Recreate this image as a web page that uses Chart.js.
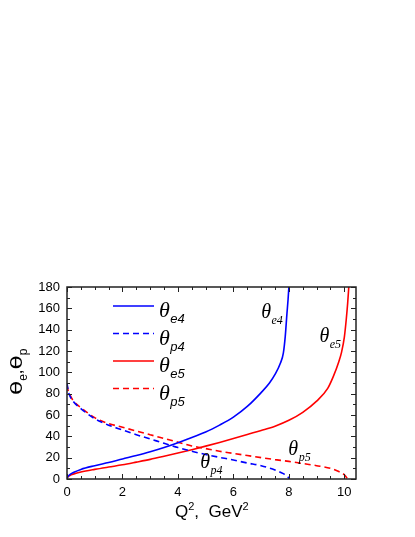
<!DOCTYPE html>
<html>
<head>
<meta charset="utf-8">
<script src="https://cdn.jsdelivr.net/npm/chart.js@4.4.1/dist/chart.umd.min.js"></script>
<style>
  html, body { margin: 0; padding: 0; background: #fff; }
</style>
</head>
<body>
<canvas id="myChart" width="415" height="537"></canvas>
<script>
// values: Q^2 in GeV^2, angles in degrees
const qE4 = [0, 0.02, 0.1, 0.25, 0.5, 1, 1.5, 2, 2.5, 3, 3.5, 4, 4.5, 5, 5.5, 6, 6.5, 7, 7.3, 7.5, 7.7, 7.8, 7.87, 7.93, 7.97, 8.0];
const thE4 = [0, 1.8, 4, 6.3, 9, 12.5, 15.5, 18.8, 22, 25.5, 29.5, 34, 39, 44, 50.5, 58, 68, 81, 90, 98, 109, 118, 134, 155, 168, 180];

const qP4 = [0, 0.05, 0.1, 0.25, 0.5, 1, 1.5, 2, 2.5, 3, 3.5, 4, 4.5, 5, 5.5, 6, 6.5, 7, 7.5, 7.8, 7.95, 8.0];
const thP4 = [90, 82, 78, 72, 66, 56.5, 50.5, 46, 41.5, 37.5, 33.5, 29.5, 26, 23, 20.3, 17.8, 15, 12.5, 8.5, 5, 2.5, 0.5];

const qE5 = [0, 0.02, 0.1, 0.25, 0.5, 1, 1.5, 2, 2.5, 3, 3.5, 4, 4.5, 5, 5.5, 6, 6.5, 7, 7.5, 8, 8.5, 9, 9.4, 9.6, 9.8, 9.9, 10.0, 10.07, 10.12, 10.16];
const thE5 = [0, 1.5, 3.3, 4.8, 6.5, 9, 11.2, 13.3, 15.8, 18.4, 21.3, 24.3, 27.5, 30.8, 34.3, 38, 41.8, 45.5, 49.5, 55, 62.5, 73, 85, 96, 110, 119, 133, 150, 165, 180];

const qP5 = [0, 0.05, 0.1, 0.25, 0.5, 1, 1.5, 2, 2.5, 3, 3.5, 4, 4.5, 5, 5.5, 6, 6.5, 7, 7.5, 8, 8.5, 9, 9.5, 9.8, 10.0, 10.12];
const thP5 = [88, 82, 79, 72.5, 67, 57.5, 52, 48.5, 45, 41.5, 38, 34.5, 31, 28.5, 26, 24, 22, 20, 18.2, 16.5, 14.5, 12.5, 10, 7, 4, 0];

const seriesSubs = ['e4', 'p4', 'e5', 'p5'];
const xTicks = [0, 2, 4, 6, 8, 10];
const yTicks = [0, 20, 40, 60, 80, 100, 120, 140, 160, 180];

const BLUE = '#0000ff';
const RED = '#ff0000';

function pts(xs, ys) {
    return xs.map((q, i) => ({ x: q, y: ys[i] }));
}

function series(label, xs, ys, color, dashed) {
    return {
        label: label,
        data: pts(xs, ys),
        borderColor: color,
        borderWidth: 1.6,
        borderDash: dashed ? [6, 4] : [],
        pointRadius: 0,
        fill: false,
        cubicInterpolationMode: 'monotone'
    };
}

// italic theta with a subscript
function drawTheta(ctx, x, y, sub, size, subFamily) {
    ctx.font = 'italic ' + size + 'px "Liberation Serif"';
    ctx.fillText('\u03B8', x, y);
    const w = ctx.measureText('\u03B8').width;
    ctx.font = 'italic ' + Math.round(size * 0.58) + 'px ' + subFamily;
    ctx.fillText(sub, x + w + 0.5, y + size * 0.28);
}

const framePlugin = {
    id: 'frame',
    afterDraw(chart) {
        const { ctx, chartArea: a, scales: { x, y } } = chart;
        ctx.save();
        ctx.strokeStyle = '#222';
        ctx.lineWidth = 1.5;
        ctx.strokeRect(a.left, a.top, a.right - a.left, a.bottom - a.top);
        ctx.lineWidth = 1;
        ctx.beginPath();
        for (let i = 0; i <= 20; i++) {
            const px = Math.round(x.getPixelForValue(i * 0.5)) + 0.5;
            const len = i % 4 === 0 ? 5 : 3;
            ctx.moveTo(px, a.bottom); ctx.lineTo(px, a.bottom - len);
            ctx.moveTo(px, a.top); ctx.lineTo(px, a.top + len);
        }
        for (let i = 0; i <= 18; i++) {
            const py = Math.round(y.getPixelForValue(i * 10)) + 0.5;
            const len = i % 2 === 0 ? 5 : 3;
            ctx.moveTo(a.left, py); ctx.lineTo(a.left + len, py);
            ctx.moveTo(a.right, py); ctx.lineTo(a.right - len, py);
        }
        ctx.stroke();
        ctx.restore();
    }
};

const textPlugin = {
    id: 'texts',
    afterDraw(chart) {
        const { ctx, scales: { x, y } } = chart;
        ctx.save();
        ctx.fillStyle = '#000';
        ctx.textBaseline = 'alphabetic';
        ctx.textAlign = 'left';

        // legend inside the plot
        chart.data.datasets.forEach((ds, i) => {
            const ly = 306 + i * 27.5;
            ctx.save();
            ctx.strokeStyle = ds.borderColor;
            ctx.lineWidth = 1.6;
            ctx.setLineDash(ds.borderDash);
            ctx.beginPath();
            ctx.moveTo(113, ly);
            ctx.lineTo(154, ly);
            ctx.stroke();
            ctx.restore();
            drawTheta(ctx, 159, ly + 11, seriesSubs[i], 22, '"Liberation Sans"');
        });

        // curve labels
        const serif = '"Liberation Serif"';
        drawTheta(ctx, x.getPixelForValue(7.0), y.getPixelForValue(151), 'e4', 20, serif);
        drawTheta(ctx, x.getPixelForValue(9.1), y.getPixelForValue(128.5), 'e5', 20, serif);
        drawTheta(ctx, x.getPixelForValue(7.98), y.getPixelForValue(22.5), 'p5', 20, serif);
        drawTheta(ctx, x.getPixelForValue(4.8), y.getPixelForValue(10.3), 'p4', 20, serif);

        // x title
        let tx = 175, ty = 517;
        ctx.font = '17px "Liberation Sans"';
        ctx.fillText('Q', tx, ty); tx += ctx.measureText('Q').width;
        ctx.font = '11px "Liberation Sans"';
        ctx.fillText('2', tx, ty - 7); tx += ctx.measureText('2').width;
        ctx.font = '17px "Liberation Sans"';
        ctx.fillText(',  GeV', tx, ty); tx += ctx.measureText(',  GeV').width;
        ctx.font = '11px "Liberation Sans"';
        ctx.fillText('2', tx, ty - 7);

        // y title, rotated
        ctx.translate(22, 395);
        ctx.rotate(-Math.PI / 2);
        let sx = 0;
        const parts = [['\u03B8', false], ['e', true], [',', false], ['\u03B8', false], ['p', true]];
        parts.forEach(([t, sub]) => {
            if (t === '\u03B8') {
                ctx.font = '16px "DejaVu Sans"';
                ctx.save();
                ctx.translate(sx, 0);
                ctx.scale(1.45, 1);
                ctx.fillText(t, 0, 0);
                ctx.restore();
                sx += ctx.measureText(t).width * 1.45;
            } else {
                ctx.font = sub ? '12px "Liberation Sans"' : '17px "Liberation Sans"';
                ctx.fillText(t, sx, sub ? 5 : 0);
                sx += ctx.measureText(t).width;
            }
        });
        ctx.restore();
    }
};

const ctx = document.getElementById('myChart').getContext('2d');
const myChart = new Chart(ctx, {
    type: 'line',
    data: {
        datasets: [
            series('\u03B8e4', qE4, thE4, BLUE, false),
            series('\u03B8p4', qP4, thP4, BLUE, true),
            series('\u03B8e5', qE5, thE5, RED, false),
            series('\u03B8p5', qP5, thP5, RED, true)
        ]
    },
    options: {
        responsive: false,
        animation: false,
        devicePixelRatio: 1,
        layout: { padding: { top: 287, right: 59, left: 0, bottom: 0 } },
        plugins: {
            legend: { display: false },
            tooltip: { enabled: false }
        },
        scales: {
            x: {
                type: 'linear',
                min: 0,
                max: 10.42,
                afterFit: s => { s.height = 58; },
                afterBuildTicks: s => { s.ticks = xTicks.map(v => ({ value: v })); },
                ticks: {
                    color: '#000',
                    padding: 6,
                    font: { family: 'Liberation Sans', size: 13 }
                },
                grid: { display: false, drawTicks: false },
                border: { display: false }
            },
            y: {
                type: 'linear',
                min: 0,
                max: 180,
                afterFit: s => { s.width = 67; },
                afterBuildTicks: s => { s.ticks = yTicks.map(v => ({ value: v })); },
                ticks: {
                    color: '#000',
                    padding: 7,
                    font: { family: 'Liberation Sans', size: 13 }
                },
                grid: { display: false, drawTicks: false },
                border: { display: false }
            }
        }
    },
    plugins: [framePlugin, textPlugin]
});
</script>
</body>
</html>
